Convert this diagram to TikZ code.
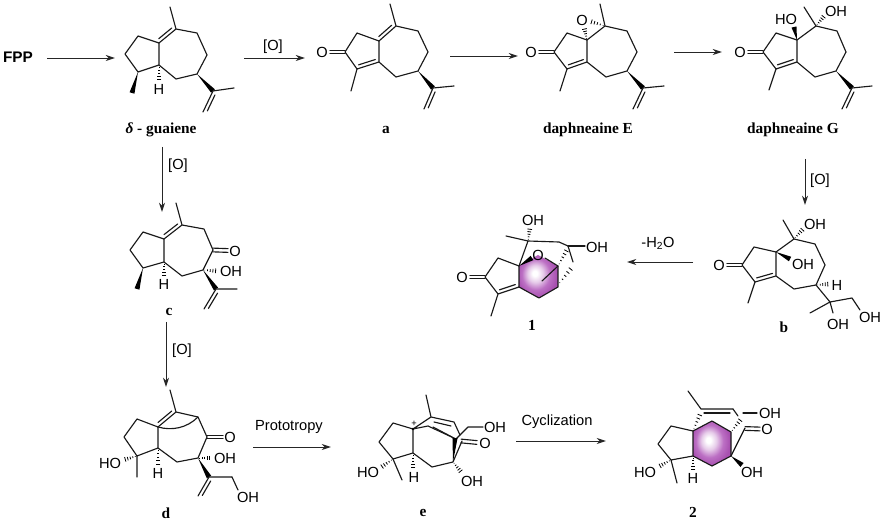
\documentclass[tikz,border=0pt]{standalone}
\usepackage{fontspec}
\setmainfont{Liberation Serif}
\setsansfont{Liberation Sans}
\usetikzlibrary{calc,arrows.meta}
\definecolor{purpleA}{HTML}{BC70C4}
\definecolor{purpleB}{HTML}{A850B0}
\definecolor{purpleC}{HTML}{E6CBE9}
\pgfdeclareradialshading{hexshade}{\pgfpoint{-5bp}{4bp}}{color(0bp)=(white);color(3bp)=(white);color(10bp)=(purpleC);color(18bp)=(purpleA);color(26bp)=(purpleB);color(50bp)=(purpleB)}
\tikzset{
  bond/.style={line width=0.85pt,black!90,line cap=round,line join=round},
  rxn/.style={line width=0.7pt,black!85,-{Stealth[length=7pt,width=4.5pt]}},
  atom/.style={inner sep=0pt,font=\sffamily\fontsize{11}{11}\selectfont},
  cmpd/.style={inner sep=0pt,font=\bfseries\fontsize{11.5}{12}\selectfont},
  cond/.style={inner sep=0pt,font=\sffamily\fontsize{11}{11}\selectfont},
}
% plain bond chain
\newcommand{\chain}[1]{\draw[bond] #1;}
% wedge: narrow at #1, wide at #2
\newcommand{\wdg}[2]{\fill[black] (#1) -- ($(#2)!1.9pt!90:(#1)$) -- ($(#2)!1.9pt!-90:(#1)$) -- cycle;}
% hashed wedge: narrow at #1, wide at #2
\newcommand{\hsh}[2]{\foreach \t in {0.12,0.3,...,1.0}{%
  \draw[line width=0.6pt,black] ($(#1)!\t!(#2)!{\t*2.1pt}!90:(#2)$) -- ($(#1)!\t!(#2)!{\t*2.1pt}!-90:(#2)$);}}
% inner line of a double bond between #1 and #2, offset to side #3 (90 or -90)
\newcommand{\dbl}[3]{\draw[bond] ($($(#1)!0.12!(#2)$)!2.6pt!#3:(#2)$) -- ($($(#2)!0.12!(#1)$)!2.6pt!-#3:(#1)$);}
% symmetric double bond (carbonyl)
\newcommand{\dco}[2]{\draw[bond] ($(#1)!1.4pt!90:(#2)$) -- ($(#2)!1.4pt!-90:(#1)$) ($(#1)!1.4pt!-90:(#2)$) -- ($(#2)!1.4pt!90:(#1)$);}
% isopropenyl tail: #1 ring C, #2 C, #3 methyl, #4 =CH2
\newcommand{\isop}[4]{\wdg{#1}{#2}\draw[bond] (#2)--(#3) (#2)--(#4); \dbl{#2}{#4}{90}}
\begin{document}
\begin{tikzpicture}[x=0.75pt,y=-0.75pt]
\useasboundingbox (0,0) rectangle (886,527);
\fill[white] (0,0) rectangle (886,527);

% ---------- FPP ----------
\node[inner sep=0pt,font=\sffamily\bfseries\fontsize{11.5}{12}\selectfont] (fpp) at (18,57) {FPP};
\coordinate (fppE) at (47,58);
\coordinate (gL) at (115,58);
\draw[rxn] (fppE) -- (gL);

% ---------- delta-guaiene ----------
\chain{(170,7)--(176,29)--(197,33)--(207,55)--(197,74)--(176,79)--(159,65)--(159,43)--(138,36)--(125,54)--(138,72)--(159,65)}
\chain{(176,29)--(159,43)}
\dbl{176,29}{159,43}{-90}
\wdg{138,72}{132,93}
\hsh{159,65}{159,82}
\node[atom] (gH) at (159,89) {H};
\isop{197,74}{213,91}{234,88}{203,112}
\node[cmpd] (gl) at (161,130) {\textit{δ} - guaiene};

\coordinate (gR) at (244,58);
\coordinate (aL) at (305,58);
\draw[rxn] (gR) -- (aL);
\node[cond] (o1) at (273,47) {[O]};
\coordinate (gD) at (162,147);
\coordinate (cU) at (162,212);
\draw[rxn] (gD) -- (cU);
\node[cond] (o2) at (178,166) {[O]};

% ---------- a ----------
\node[atom] (aO) at (322,52) {O};
\chain{(390,4)--(396,26)--(418,31)--(428,52)--(418,71)--(396,77)--(379,62)--(379,41)--(357,33)--(345,52)--(357,69)--(379,62)}
\chain{(396,26)--(379,41) (357,69)--(351,91)}
\dbl{396,26}{379,41}{-90}
\dbl{357,69}{379,62}{90}
\dco{345,52}{330,52}
\isop{418,71}{433,88}{454,86}{424,109}
\node[cmpd] (al) at (386,130) {a};
\coordinate (aR) at (450,56);
\coordinate (eL) at (518,56);
\draw[rxn] (aR) -- (eL);

% ---------- daphneaine E ----------
\node[atom] (eO) at (531,52) {O};
\node[atom] (epO) at (582,20) {O};
\chain{(600,4)--(605,26)--(627,31)--(637,52)--(627,71)--(606,77)--(587,62)--(587,40)--(567,33)--(554,52)--(567,69)--(587,62)}
\chain{(567,69)--(560,91) (587,40)--(605,26)}
\dbl{567,69}{587,62}{90}
\dco{554,52}{539,52}
\hsh{587,40}{584,27}
\hsh{605,26}{589,21}
\isop{627,71}{643,88}{664,86}{633,109}
\node[cmpd] (el) at (588,130) {daphneaine E};
\coordinate (eR) at (674,52);
\coordinate (GL) at (722,52);
\draw[rxn] (eR) -- (GL);

% ---------- daphneaine G ----------
\node[atom] (GO) at (740,52) {O};
\chain{(804,7)--(816,26)--(837,31)--(846,52)--(836,71)--(815,77)--(797,62)--(797,40)--(776,33)--(763,52)--(776,69)--(797,62)}
\chain{(776,69)--(769,90) (797,40)--(816,26)}
\dbl{776,69}{797,62}{90}
\dco{763,52}{748,52}
\wdg{797,40}{794,27}
\node[atom] (Ghot) at (786,19) {HO};
\node[atom] (Goh) at (836,11) {OH};
\hsh{816,26}{825,15}
\isop{836,71}{852,88}{872,86}{842,109}
\node[cmpd] (Gl) at (793,130) {daphneaine G};
\coordinate (GD) at (805,159);
\coordinate (bU) at (805,205);
\draw[rxn] (GD) -- (bU);
\node[cond] (o3) at (820,181) {[O]};

% ---------- b ----------
\node[atom] (bO) at (719,265) {O};
\chain{(783,220)--(794,239)--(815,244)--(825,265)--(816,285)--(794,289)--(776,276)--(776,252)--(754,247)--(742,265)--(755,282)--(776,276)}
\chain{(755,282)--(748,303) (776,252)--(794,239) (816,285)--(830,302)--(810,313) (830,302)--(833,313) (830,302)--(852,298)--(860,310)}
\dbl{755,282}{776,276}{90}
\dco{742,265}{727,265}
\wdg{776,252}{790,259}
\node[atom] (bOHa) at (815,224) {OH};
\hsh{794,239}{804,228}
\node[atom] (bOHb) at (803,264) {OH};
\hsh{816,285}{830,284}
\node[atom] (bH) at (837,285) {H};
\node[atom] (bOHc) at (838,324) {OH};
\node[atom] (bOHd) at (870,317) {OH};
\node[cmpd] (bl) at (784,327) {b};
\coordinate (bL) at (693,262);
\coordinate (oneR) at (627,262);
\draw[rxn] (bL) -- (oneR);
\node[cond] (wat) at (658,243) {-H\textsubscript{2}O};

% ---------- 1 ----------
\shade[shading=hexshade] (519,266)--(538,255)--(558,266)--(558,287)--(539,298)--(519,287)--cycle;
\node[atom] (oneO) at (462,277) {O};
\chain{(519,266)--(498,258)--(485,277)--(498,294)--(519,287)--(519,266) (498,294)--(491,316)}
\chain{(519,287)--(539,298)--(558,287)--(558,266)--(545,258) (519,266)--(528,241)--(506,236) (528,241)--(559,242)--(568,246)--(573,262)}
\chain{(558,266)--(542,281)}
\chain{(568,246)--(585,246)}
\dbl{498,294}{519,287}{90}
\dco{485,277}{470,277}
\wdg{519,266}{532,258}
\node[atom] (oneOx) at (538,255) {O};
\node[atom] (oneOHa) at (533,220) {OH};
\hsh{528,241}{530,227}
\node[atom] (oneOHb) at (597,247) {OH};
\hsh{558,285}{573,266}
\hsh{558,266}{568,248}
\node[cmpd] (onel) at (532,325) {1};

% ---------- c ----------
\node[atom] (cO) at (235,251) {O};
\chain{(176,203)--(182,225)--(204,229)--(213,250)--(203,270)--(182,276)--(164,262)--(164,239)--(143,232)--(130,250)--(143,268)--(164,262)}
\chain{(182,225)--(164,239)}
\dbl{182,225}{164,239}{-90}
\dco{213,250}{228,250.5}
\wdg{143,268}{137,289}
\hsh{164,262}{164,278}
\node[atom] (cH) at (164,284) {H};
\hsh{203,270}{218,271}
\node[atom] (cOH) at (231,271) {OH};
\isop{203,270}{216,289}{237,289}{204,309}
\node[cmpd] (cl) at (169,312) {c};
\coordinate (cD) at (166,322);
\coordinate (dU) at (166,387);
\draw[rxn] (cD) -- (dU);
\node[cond] (o4) at (182,351) {[O]};

% ---------- d ----------
\node[atom] (dO) at (230,437) {O};
\chain{(170,390)--(176,412)--(198,417)--(207,437)--(198,458)--(177,462)--(158,448)--(158,427)--(137,419)--(124,437)--(137,456)--(158,448)}
\chain{(176,412)--(158,427) (137,456)--(137,477)}
\dbl{176,412}{158,427}{-90}
\draw[bond] (158,427) .. controls (172,431) and (187,428) .. (198,417);
\dco{207,437}{223,437}
\hsh{137,456}{123,460}
\node[atom] (dHO) at (110,463) {HO};
\hsh{158,448}{158,467}
\node[atom] (dH) at (158,473) {H};
\hsh{198,458}{212,458}
\node[atom] (dOHa) at (225,458) {OH};
\isop{198,458}{209,477}{232,477}{198,496}
\chain{(232,477)--(238,490)}
\node[atom] (dOHb) at (248,497) {OH};
\node[cmpd] (dl) at (166,513) {d};
\coordinate (dR) at (253,447);
\coordinate (eeL) at (331,447);
\draw[rxn] (dR) -- (eeL);
\node[cond] (proto) at (289,427) {Prototropy};

% ---------- e ----------
\node[atom] (e2O) at (485,443) {O};
\chain{(426,395)--(431,417)--(454,422)--(460,435) (462,441)--(453,462)--(432,467)--(413,453)--(413,429)--(393,423)--(379,442)--(393,459)--(413,453)}
\chain{(393,459)--(402,480) (413,429)--(431,417) (413,429)--(428,426)--(456,439)--(468,427)--(483,427)}
\draw[bond] (434,422)--(451,426);
\draw[bond] (433,427)--(452,437);
\dco{461,441}{477,442.5}
\wdg{453,462}{455,438}
\fill (413,429) circle (1.1pt);
\node[inner sep=0pt,font=\sffamily\fontsize{7}{7}\selectfont] (eplus) at (414,424) {+};
\hsh{393,459}{380,468}
\node[atom] (eHO) at (368,472) {HO};
\hsh{413,453}{413,470}
\node[atom] (eH) at (414,477) {H};
\hsh{453,462}{462,473}
\node[atom] (eOHa) at (472,481) {OH};
\node[atom] (eOHb) at (495,427) {OH};
\node[cmpd] (e2l) at (423,513) {e};
\coordinate (e2R) at (516,441);
\coordinate (tL) at (606,441);
\draw[rxn] (e2R) -- (tL);
\node[cond] (cyc) at (557,422) {Cyclization};

% ---------- 2 ----------
\shade[shading=hexshade] (693,431)--(712,421)--(731,432)--(731,456)--(712,466)--(693,456)--cycle;
\node[atom] (tO) at (767,429) {O};
\chain{(693,431)--(712,421)--(731,432)--(731,456)--(712,466)--(693,456)--cycle}
\chain{(693,431)--(671,426)--(658,444)--(671,460)--(693,456) (671,460)--(677,483)}
\chain{(688,391)--(701,409)--(733,409) (745,428)--(731,456)}
\draw[bond] (704,413)--(730,413);
\draw[bond] (743,413)--(757,413);
\draw[bond] (733,409)--(738,416);
\dco{745,428.5}{760,429}
\hsh{693,431}{701,412}
\hsh{731,432}{742,418}
\wdg{731,456}{742,465}
\node[atom] (tOHa) at (770,413) {OH};
\hsh{671,460}{658,467}
\node[atom] (tHO) at (645,472) {HO};
\hsh{693,456}{693,472}
\node[atom] (tH) at (693,478) {H};
\node[atom] (tOHb) at (752,472) {OH};
\node[cmpd] (tl) at (693,512) {2};
\end{tikzpicture}
\end{document}
